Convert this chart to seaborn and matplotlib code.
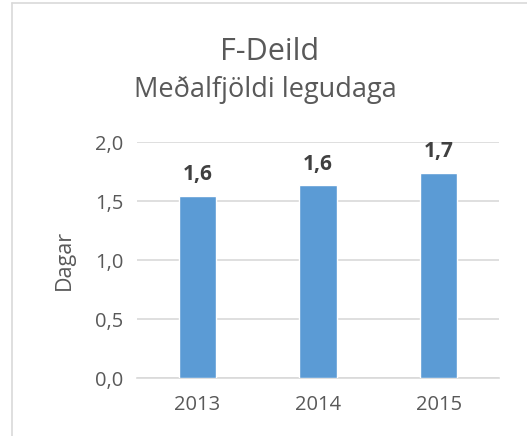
import numpy as np
import pandas as pd
import matplotlib
matplotlib.use('Agg')
import matplotlib.pyplot as plt
import seaborn as sns
from matplotlib.lines import Line2D

# data
years = ['2013', '2014', '2015']
dagar = [1.545, 1.633, 1.74]
labels = ['1,6', '1,6', '1,7']

df = pd.DataFrame({'ar': years, 'dagar': dagar})

sns.set_style('white')
plt.rcParams['font.family'] = ['Open Sans', 'DejaVu Sans']
gray = '#595959'

fig = plt.figure(figsize=(5.27, 4.36), dpi=100)
ax = fig.add_axes([0.260, 0.133, 0.687, 0.541])

sns.barplot(data=df, x='ar', y='dagar', color='#5B9BD5', saturation=1,
            width=0.31, ax=ax, zorder=3)

ax.set_ylim(0, 2.0)
ax.set_yticks(np.arange(0, 2.01, 0.5))
ax.set_yticklabels([f'{v:.1f}'.replace('.', ',') for v in np.arange(0, 2.01, 0.5)])
ax.yaxis.grid(True, color='#D9D9D9', linewidth=1.2, zorder=0)
ax.set_axisbelow(True)
for s in ['top', 'right', 'left']:
    ax.spines[s].set_visible(False)
ax.spines['bottom'].set_color('#D9D9D9')
ax.spines['bottom'].set_linewidth(1.2)
ax.tick_params(axis='both', length=0, labelsize=14.5, colors=gray, pad=10)
ax.tick_params(axis='x', pad=12)
ax.set_xlabel('')
ax.set_ylabel('Dagar', fontsize=15.5, color=gray, labelpad=14)

for i, (v, t) in enumerate(zip(dagar, labels)):
    ax.text(i, v + 0.09, t, ha='center', va='bottom', fontsize=15,
            fontweight='bold', color='#404040')

fig.text(0.512, 0.881, 'F-Deild', ha='center', va='center', fontsize=22, color=gray)
fig.text(0.503, 0.794, 'Meðalfjöldi legudaga', ha='center', va='center',
         fontsize=19.5, color=gray)

# border of chart area
fig.add_artist(Line2D([12/527, 12/527], [0, 1 - 3/436], transform=fig.transFigure,
                      color='#D9D9D9', linewidth=1.2))
fig.add_artist(Line2D([12/527, 1], [1 - 3/436, 1 - 3/436], transform=fig.transFigure,
                      color='#D9D9D9', linewidth=1.2))

fig.savefig('out.png', dpi=100)
